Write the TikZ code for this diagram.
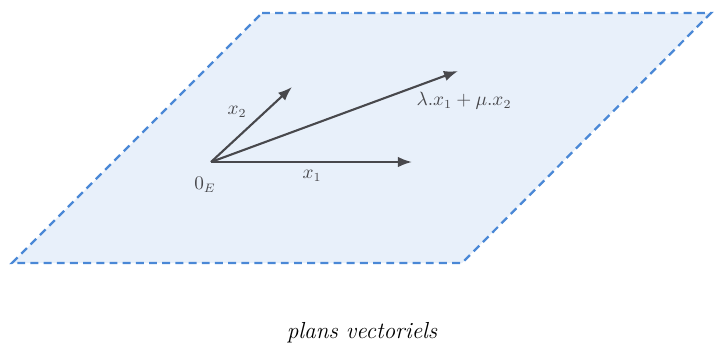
\documentclass[tikz,border=0pt]{standalone}
\usepackage{amsmath}
\usepackage{amssymb}
\usepackage{tikz}
\usetikzlibrary{arrows.meta,calc}
\definecolor{planblue}{RGB}{74,136,214}
\definecolor{planfill}{RGB}{232,240,250}
\definecolor{vecgray}{RGB}{72,72,76}
\tikzset{plan/.style={draw=planblue,fill=planfill,line width=1.3pt,dash pattern=on 4.5pt off 3pt}}
\tikzset{vec/.style={draw=vecgray,line width=1.2pt,-{Latex[length=8pt,width=6pt]}}}
\tikzset{lab/.style={inner sep=1pt,text=vecgray,font=\fontsize{10.5}{12}\selectfont}}

\begin{document}
\begin{tikzpicture}[x=0.02cm,y=-0.02cm]
    \useasboundingbox (0,0) rectangle (723,352);
    \coordinate (A) at (262,13);
    \coordinate (B) at (711,13);
    \coordinate (C) at (462,263);
    \coordinate (D) at (12,263);
    \draw [plan] (A) -- (B) -- (C) -- (D) -- cycle;
    % vectors
    \coordinate (O) at (211,162);
    \coordinate (u) at (412,162);
    \coordinate (v) at (292,87);
    \coordinate (w) at (458,71);
    \draw [vec] (O) -- (u);
    \draw [vec] (O) -- (v);
    \draw [vec] (O) -- (w);
    \node [lab] (lO) at (205,185) {$0_E$};
    \node [lab] (lu) at (312,176) {$x_1$};
    \node [lab] (lv) at (237,112) {$x_2$};
    \node [lab] (lw) at (464,101) {$\lambda.x_1+\mu.x_2$};
    \node [lab,text=black,font=\fontsize{13.2}{16}\selectfont\itshape] (cap) at (362,333) {plans vectoriels};
\end{tikzpicture}
\end{document}
